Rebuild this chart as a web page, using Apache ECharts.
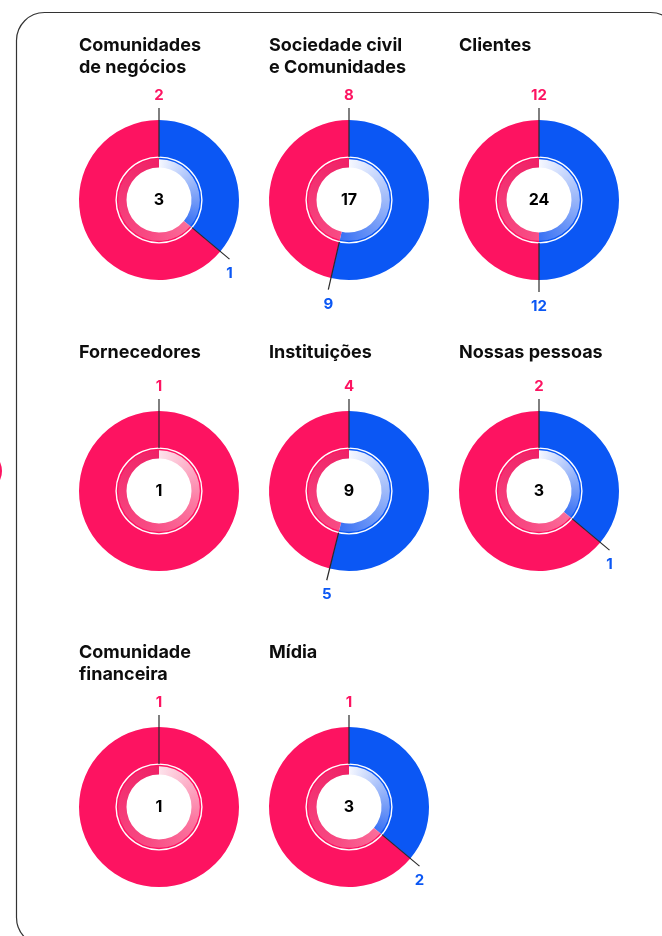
<html lang="pt">
<head>
<meta http-equiv="Content-Type" content="text/html; charset=UTF-8">
<script src="https://cdn.jsdelivr.net/npm/echarts@6/dist/echarts.min.js"></script>
<style>
  html, body { margin: 0; padding: 0; background: #fff; }
</style>
</head>
<body>
<div id="main" style="width:662px;height:936px;"></div>
<script type="text/javascript">
// dados de cada grupo de stakeholders
var titles = ['Comunidades\nde negócios', 'Sociedade civil\ne Comunidades', 'Clientes',
              'Fornecedores', 'Instituições', 'Nossas pessoas',
              'Comunidade\nfinanceira', 'Mídia'];
var redCounts = [2, 8, 12, 1, 4, 2, 1, 1];
var blueCounts = [1, 9, 12, 0, 5, 1, 0, 2];
var totals = [3, 17, 24, 1, 9, 3, 1, 3];
// tamanho do arco azul (graus)
var blueArcDeg = [130, 193, 180, 0, 194, 130, 0, 130];

var RED = '#fd1361';
var BLUE = '#0b57f4';
var LINE = '#2a2a2a';

// layout
var colX = [159, 349, 539];
var rowY = [200, 491, 807];
var titleTop = [35, 342, 642];

var myChart = echarts.init(document.getElementById('main'));

// anel interno com gradiente cônico (pattern)
var R_IN = 41;
function conic(stops, cx, cy) {
    var c = document.createElement('canvas');
    c.width = c.height = 2 * R_IN;
    var ctx = c.getContext('2d');
    var g = ctx.createConicGradient(-Math.PI / 2, R_IN, R_IN);
    stops.forEach(function (s) { g.addColorStop(s[0], s[1]); });
    ctx.fillStyle = g;
    ctx.fillRect(0, 0, 2 * R_IN, 2 * R_IN);
    return { image: c, repeat: 'no-repeat', x: cx - R_IN, y: cy - R_IN };
}

var title = [], polar = [], angleAxis = [], radiusAxis = [], series = [];

for (var i = 0; i < titles.length; i++) {
    var cx = colX[i % 3], cy = rowY[Math.floor(i / 3)];
    var arc = blueArcDeg[i];

    title.push({
        text: titles[i], left: cx - 80, top: titleTop[Math.floor(i / 3)], padding: 0,
        textStyle: { fontFamily: 'Inter', fontSize: 18, fontWeight: 'bold', color: '#0d0d0d', lineHeight: 22 }
    });

    var outerData = [], innerData = [];
    if (arc > 0) {
        outerData.push({ value: arc, itemStyle: { color: BLUE } });
        innerData.push({ value: arc, itemStyle: { color: conic([[0, '#f6f8ff'], [arc / 360, '#3a72f4'], [1, '#3a72f4']], cx, cy) } });
    }
    outerData.push({ value: 360 - arc, itemStyle: { color: RED } });
    innerData.push({ value: 360 - arc, itemStyle: { color: conic([[0, '#fde2eb'], [0.3, '#fc79a2'], [0.55, '#f84a83'], [1, '#ef2166']], cx, cy) } });

    var common = { type: 'pie', center: [cx, cy], startAngle: 90, silent: true,
        label: { show: false }, labelLine: { show: false }, itemStyle: { borderWidth: 0 } };
    series.push(Object.assign({}, common, { radius: [40, 80], data: outerData }));
    series.push(Object.assign({}, common, { radius: [42.2, 43.6], data: [{ value: 1, itemStyle: { color: '#fff' } }] }));
    series.push(Object.assign({}, common, { radius: [32.5, 40.8], data: innerData }));

    polar.push({ center: [cx, cy], radius: 120 });
    angleAxis.push({ polarIndex: i, type: 'value', min: 0, max: 360, startAngle: 90, show: false });
    radiusAxis.push({ polarIndex: i, type: 'value', min: 0, max: 120, show: false });

    var lineCommon = { type: 'line', coordinateSystem: 'polar', polarIndex: i, symbol: 'none', silent: true,
        lineStyle: { color: LINE, width: 1.2 }, z: 5 };
    series.push(Object.assign({}, lineCommon, { data: [[43, 0], [92, 0]] }));

    var labels = [
        { value: [92, 0, redCounts[i]], label: { position: 'top', distance: 5, color: RED } },
        { value: [0, 0, totals[i]], label: { position: 'inside', color: '#000', fontSize: 16 } }
    ];
    if (blueCounts[i] > 0) {
        series.push(Object.assign({}, lineCommon, { data: [[43, arc], [92, arc]] }));
        labels.push({ value: [92, arc, blueCounts[i]], label: { position: 'bottom', distance: 7, color: BLUE } });
    }
    series.push({
        type: 'scatter', coordinateSystem: 'polar', polarIndex: i, symbolSize: 0, silent: true, z: 6,
        itemStyle: { opacity: 1 },
        label: { show: true, fontFamily: 'Inter', fontSize: 15, fontWeight: 'bold',
            formatter: function (p) { return p.value[2]; } },
        data: labels
    });
}

var option = {
    animation: false,
    title: title,
    polar: polar,
    angleAxis: angleAxis,
    radiusAxis: radiusAxis,
    graphic: [
        { type: 'rect', shape: { x: 16.5, y: 12.5, width: 662, height: 933, r: 28 },
          style: { fill: 'none', stroke: '#333', lineWidth: 1.2 }, silent: true },
        { type: 'circle', shape: { cx: -19, cy: 471, r: 21 }, style: { fill: RED }, silent: true }
    ],
    series: series
};

myChart.setOption(option);
</script>
</body>
</html>
